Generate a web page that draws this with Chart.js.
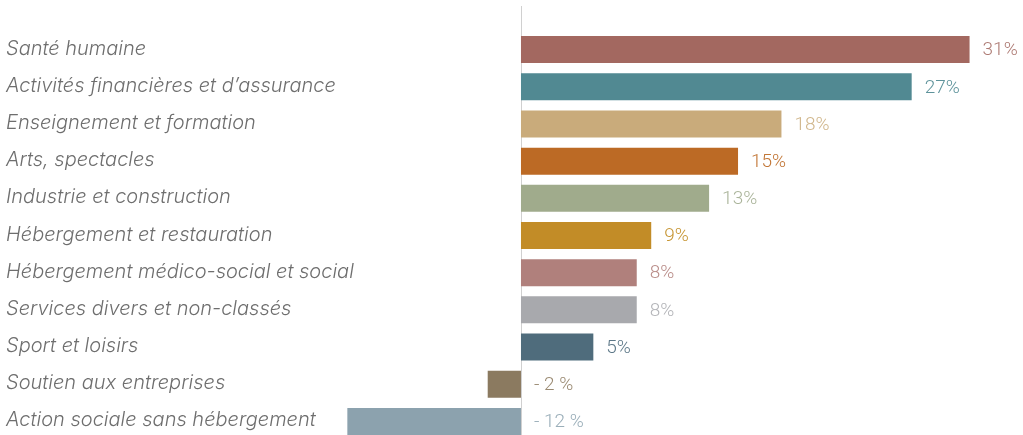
<!DOCTYPE html>
<html>
<head>
<meta charset="utf-8">
<script src="https://cdn.jsdelivr.net/npm/chart.js@4"></script>
<style>
html,body{margin:0;padding:0;background:#fff;overflow:hidden;width:1023px;height:435px;}
canvas{display:block;}
</style>
</head>
<body>
<canvas id="c" width="1023" height="441"></canvas>
<script>
const categories = [
  "Santé humaine",
  "Activités financières et d’assurance",
  "Enseignement et formation",
  "Arts, spectacles",
  "Industrie et construction",
  "Hébergement et restauration",
  "Hébergement médico-social et social",
  "Services divers et non-classés",
  "Sport et loisirs",
  "Soutien aux entreprises",
  "Action sociale sans hébergement"
];
const values = [31, 27, 18, 15, 13, 9, 8, 8, 5, -2.3, -12];
const valueLabels = ["31%", "27%", "18%", "15%", "13%", "9%", "8%", "8%", "5%", "- 2 %", "- 12 %"];
const barColors = ["#a36860", "#518992", "#c9ab7b", "#bc6a25", "#a0ab8c", "#c28c27", "#b0807c", "#a8a9ad", "#4f6c7c", "#8b7a60", "#8ca2ae"];
const labelColors = ["#ad7a73", "#5e939b", "#d0b68b", "#c27636", "#aab49a", "#c79634", "#b98c88", "#b3b4b8", "#5d7888", "#9a8a72", "#9aaeb9"];

const categoryLabelPlugin = {
  id: 'categoryLabels',
  afterDraw(chart) {
    const ctx = chart.ctx;
    const yScale = chart.scales.y;
    ctx.save();
    ctx.font = 'italic 300 20px Inter';
    ctx.fillStyle = '#6e6e6e';
    ctx.textBaseline = 'middle';
    ctx.textAlign = 'left';
    categories.forEach((c, i) => {
      ctx.fillText(c, 6, yScale.getPixelForTick(i) - 1);
    });
    ctx.restore();
  }
};

const valueLabelPlugin = {
  id: 'valueLabels',
  afterDatasetsDraw(chart) {
    const ctx = chart.ctx;
    const meta = chart.getDatasetMeta(0);
    const x0 = chart.scales.x.getPixelForValue(0);
    ctx.save();
    ctx.font = '300 19px Roboto';
    ctx.textBaseline = 'middle';
    ctx.textAlign = 'left';
    meta.data.forEach((bar, i) => {
      const xEnd = Math.max(bar.x, x0);
      ctx.fillStyle = labelColors[i];
      ctx.fillText(valueLabels[i], xEnd + 13, bar.y + 1);
    });
    ctx.restore();
  }
};

const zeroLinePlugin = {
  id: 'zeroLine',
  beforeDatasetsDraw(chart) {
    const ctx = chart.ctx;
    const x = Math.round(chart.scales.x.getPixelForValue(0)) + 0.5;
    ctx.save();
    ctx.strokeStyle = '#d0d0d0';
    ctx.lineWidth = 1;
    ctx.beginPath();
    ctx.moveTo(x, 6);
    ctx.lineTo(x, chart.height);
    ctx.stroke();
    ctx.restore();
  }
};

new Chart(document.getElementById('c'), {
  type: 'bar',
  data: {
    labels: categories,
    datasets: [{
      data: values,
      backgroundColor: barColors,
      borderWidth: 0,
      categoryPercentage: 1,
      barPercentage: 0.726
    }]
  },
  options: {
    indexAxis: 'y',
    responsive: false,
    animation: false,
    layout: { padding: { top: 31, bottom: 1, left: 6, right: 24.5 } },
    plugins: { legend: { display: false }, tooltip: { enabled: false } },
    scales: {
      x: { display: false, min: -14, max: 33 },
      y: {
        grid: { display: false },
        border: { display: false },
        afterFit(scale) { scale.width = 312.4; },
        ticks: { display: false, autoSkip: false }
      }
    }
  },
  plugins: [zeroLinePlugin, valueLabelPlugin, categoryLabelPlugin]
});
</script>
</body>
</html>
